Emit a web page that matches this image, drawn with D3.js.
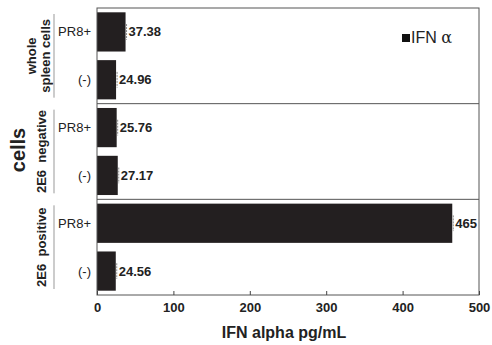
<!DOCTYPE html>
<html>
<head>
<meta charset="utf-8">
<script src="https://cdn.jsdelivr.net/npm/d3@7"></script>
<style>
  body { margin: 0; background: #fff; }
  text { font-family: "Liberation Sans", Arial, sans-serif; fill: #222; }
</style>
</head>
<body>
<script>
const width = 492;
const height = 345;
const margin = {top: 8, right: 13, bottom: 50, left: 97};

// data
const groups = ['whole spleen cells', '2E6 negative', '2E6 positive'];
const groupLines = [['whole', 'spleen cells'], ['2E6  negative'], ['2E6  positive']];
const treatments = ['PR8+', '(-)'];
const values = [37.38, 24.96, 25.76, 27.17, 465, 24.56];
const valueLabels = ['37.38', '24.96', '25.76', '27.17', '465', '24.56'];
const xTicks = [0, 100, 200, 300, 400, 500];

const rows = [];
groups.forEach((g, gi) => treatments.forEach((t, ti) => {
    rows.push({group: g, gi: gi, treat: t, key: g + '|' + t, value: values[gi * 2 + ti], label: valueLabels[gi * 2 + ti]});
}));

const svg = d3.select('body').append('svg')
    .attr('width', width)
    .attr('height', height);

const innerW = width - margin.left - margin.right;
const innerH = height - margin.top - margin.bottom;

const x = d3.scaleLinear().domain([0, 500]).range([0, innerW]);
const yGroup = d3.scaleBand().domain(groups).range([0, innerH]);
const y = d3.scaleBand().domain(rows.map(d => d.key)).range([0, innerH])
    .paddingInner(0.18).paddingOuter(0.09);

const g = svg.append('g').attr('transform', `translate(${margin.left},${margin.top})`);

// bars
g.selectAll('rect.bar')
    .data(rows)
    .enter().append('rect')
    .attr('class', 'bar')
    .attr('x', 0)
    .attr('y', d => y(d.key))
    .attr('width', d => x(d.value))
    .attr('height', y.bandwidth())
    .attr('fill', '#231f20');

// small error ticks at bar ends
g.selectAll('line.err')
    .data(rows)
    .enter().append('line')
    .attr('x1', d => x(d.value) + 1)
    .attr('x2', d => x(d.value) + 1)
    .attr('y1', d => y(d.key) + y.bandwidth() * 0.3)
    .attr('y2', d => y(d.key) + y.bandwidth() * 0.7)
    .attr('stroke', '#888')
    .attr('stroke-dasharray', '2,1');

// value labels
g.selectAll('text.val')
    .data(rows)
    .enter().append('text')
    .attr('x', d => x(d.value) + 3)
    .attr('y', d => y(d.key) + y.bandwidth() / 2)
    .attr('dy', '0.35em')
    .attr('font-size', 13)
    .attr('font-weight', 'bold')
    .text(d => d.label);

// treatment labels
g.selectAll('text.treat')
    .data(rows)
    .enter().append('text')
    .attr('x', -6)
    .attr('y', d => y(d.key) + y.bandwidth() / 2)
    .attr('dy', '0.35em')
    .attr('text-anchor', 'end')
    .attr('font-size', 13)
    .text(d => d.treat);

// group separators
g.selectAll('line.sep')
    .data(groups.slice(1))
    .enter().append('line')
    .attr('x1', 0).attr('x2', innerW)
    .attr('y1', d => yGroup(d)).attr('y2', d => yGroup(d))
    .attr('stroke', '#555');

// frame
g.append('rect')
    .attr('width', innerW).attr('height', innerH)
    .attr('fill', 'none')
    .attr('stroke', '#555');

// x axis
const xAxis = g.append('g')
    .attr('transform', `translate(0,${innerH})`)
    .call(d3.axisBottom(x).tickValues(xTicks).tickSize(-4).tickPadding(8));
xAxis.select('.domain').remove();
xAxis.selectAll('text')
    .attr('font-size', 13)
    .attr('font-weight', 'bold')
    .attr('font-family', '"Liberation Sans", Arial, sans-serif')
    .attr('fill', '#222');
xAxis.selectAll('line').attr('stroke', '#444');

svg.append('text')
    .attr('x', margin.left + innerW / 2 - 4)
    .attr('y', 338)
    .attr('text-anchor', 'middle')
    .attr('font-size', 16)
    .attr('font-weight', 'bold')
    .text('IFN alpha pg/mL');

// group labels, rotated, with bracket lines
groups.forEach((grp, gi) => {
    const cy = margin.top + yGroup(grp) + yGroup.bandwidth() / 2;
    const lines = groupLines[gi];
    const gx = lines.length > 1 ? 36 : 46;
    const t = svg.append('text')
        .attr('transform', `translate(${gx},${cy}) rotate(-90)`)
        .attr('text-anchor', 'middle')
        .attr('font-size', 13)
        .attr('font-weight', 'bold');
    lines.forEach((ln, li) => {
        t.append('tspan')
            .attr('x', 0)
            .attr('dy', li === 0 ? 0 : 14)
            .style('white-space', 'pre')
            .text(ln);
    });
    svg.append('line')
        .attr('x1', 54).attr('x2', 54)
        .attr('y1', margin.top + yGroup(grp) + 6)
        .attr('y2', margin.top + yGroup(grp) + yGroup.bandwidth() - 6)
        .attr('stroke', '#999');
});

// y title
svg.append('text')
    .attr('transform', 'translate(25,150) rotate(-90)')
    .attr('text-anchor', 'middle')
    .attr('font-size', 20)
    .attr('font-weight', 'bold')
    .text('cells');

// legend
const leg = svg.append('g').attr('transform', 'translate(402,34)');
leg.append('rect').attr('width', 8).attr('height', 8).attr('fill', '#111');
leg.append('text')
    .attr('x', 9).attr('y', 9)
    .attr('font-size', 16)
    .text('IFN ')
    .append('tspan')
    .attr('font-family', '"DejaVu Serif", "Liberation Serif", serif')
    .text('α');
</script>
</body>
</html>
